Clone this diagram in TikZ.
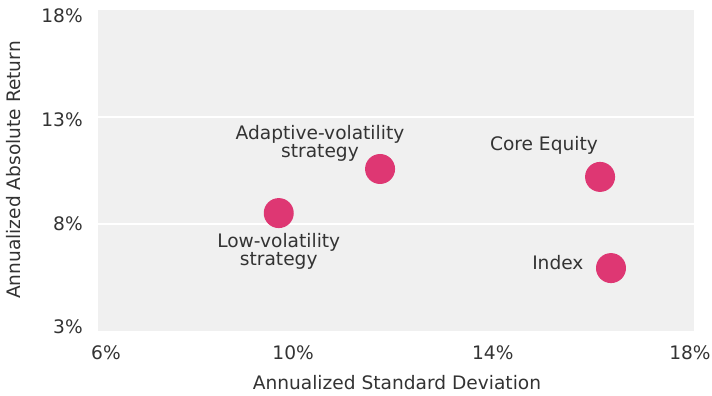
\documentclass[tikz,border=0pt]{standalone}
\usepackage{fontspec}
\setmainfont{DejaVu Sans}
\definecolor{plotbg}{HTML}{F0F0F0}
\definecolor{dotpink}{HTML}{DE3773}
\definecolor{txtgray}{HTML}{333333}
\tikzset{
  dot/.style={circle,fill=dotpink,inner sep=0pt,minimum size=15pt},
  lbl/.style={text=txtgray,font=\fontsize{9.3}{9}\selectfont,align=center,inner sep=0pt},
}
\begin{document}
\begin{tikzpicture}[x=24.83pt,y=10.7pt]
   \useasboundingbox (4.027,-0.037) rectangle (18.364,18.467);
   \fill[plotbg] (6,3) rectangle (18,18);
   \draw[white,line width=1pt] (6,8) -- (18,8);
   \draw[white,line width=1pt] (6,13) -- (18,13);

   % axis ticks
   \foreach \xv/\xl in {6.16/6, 9.93/10, 13.95/14, 17.92/18}
     \node[lbl] (xt\xl) at (\xv,1.97) {\xl\%};
   \foreach \yv/\yl in {17.72/18, 12.86/13, 8.0/8, 3.19/3}
     \node[lbl,anchor=east] (yt\yl) at (5.70,\yv) {\yl\%};

   \node[lbl] (xtitle) at (12.02,0.57) {Annualized Standard Deviation};
   \node[lbl,rotate=90] (ytitle) at (4.31,10.52) {Annualized Absolute Return};

   % points
   \node[dot] (lowvol) at (9.64,8.51) {};
   \node[dot] (adapt) at (11.68,10.57) {};
   \node[dot] (core) at (16.11,10.20) {};
   \node[dot] (index) at (16.33,5.94) {};

   \node[lbl] (lowvollbl) at (9.64,6.71) {Low-volatility\\strategy};
   \node[lbl] (adaptlbl) at (10.47,11.76) {Adaptive-volatility\\strategy};
   \node[lbl] (corelbl) at (14.98,11.69) {Core Equity};
   \node[lbl] (indexlbl) at (15.26,6.18) {Index};
\end{tikzpicture}
\end{document}
